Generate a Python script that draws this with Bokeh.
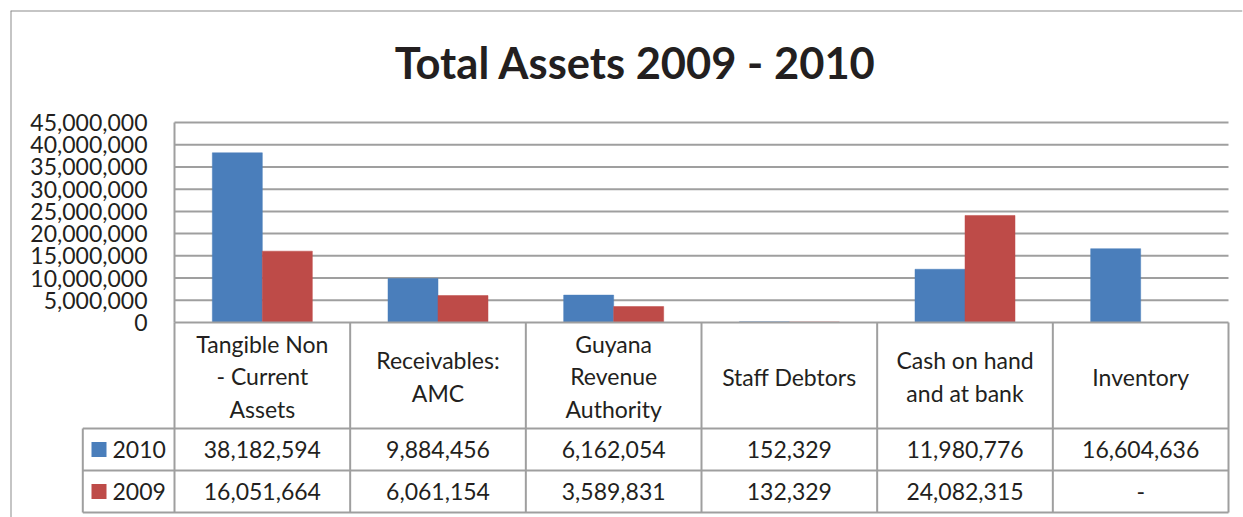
from bokeh.plotting import figure
from bokeh.models import Range1d, LinearAxis, FixedTicker, NumeralTickFormatter, ColumnDataSource, Span
from bokeh.transform import dodge
from bokeh.core.properties import value
from bokeh.embed import file_html
from bokeh.resources import INLINE

# ---------------- data ----------------
title_text = "Total Assets 2009 - 2010"
categories = ["Tangible Non\n- Current\nAssets", "Receivables:\nAMC", "Guyana\nRevenue\nAuthority",
              "Staff Debtors", "Cash on hand\nand at bank", "Inventory"]
series_names = ["2010", "2009"]
values_2010 = [38182594, 9884456, 6162054, 152329, 11980776, 16604636]
values_2009 = [16051664, 6061154, 3589831, 132329, 24082315, None]
series_colors = ["#4A7EBB", "#BE4B48"]
y_ticks = [0, 5000000, 10000000, 15000000, 20000000, 25000000, 30000000, 35000000, 40000000, 45000000]

# ---------------- layout constants ----------------
FONT = "Lato"
TXT = "#231F20"
LINE = "#9F9F9F"
n = len(categories)
ppu = (1228 - 174) / n          # pixels per category
x_start = (10 - 174) / ppu
x_end = x_start + 1232 / ppu
legend_left = (82.3 - 174) / ppu

p = figure(width=1243, height=517, output_backend="svg", toolbar_location=None,
           x_axis_type=None, y_axis_type=None,
           x_range=Range1d(x_start, x_end), y_range=Range1d(-43875000, 70200000),
           min_border_left=10, min_border_right=1, min_border_top=10, min_border_bottom=0,
           background_fill_color="white", border_fill_color="white", outline_line_color=None)
p.extra_y_ranges = {"tbl": Range1d(-5, 502)}

# outer chart border (left & top)
p.add_layout(Span(location=x_start, dimension="height", line_color="#8C8C8C", line_width=2))
p.add_layout(Span(location=70200000, dimension="width", line_color="#8C8C8C", line_width=2))

xs = [i + 0.5 for i in range(n)]
nan = float("nan")
src = ColumnDataSource(dict(
    x=xs,
    v2010=[v if v is not None else nan for v in values_2010],
    v2009=[v if v is not None else nan for v in values_2009],
    cat=categories,
    l2010=["{:,}".format(v) if v is not None else "-" for v in values_2010],
    l2009=["{:,}".format(v) if v is not None else "-" for v in values_2009],
))

# gridlines
grid_y = y_ticks[1:]
p.segment(x0=[0] * len(grid_y), x1=[n] * len(grid_y), y0=grid_y, y1=grid_y,
          line_color=LINE, line_width=2)

# bars
bw = 50 / ppu
p.vbar(x=dodge("x", -bw / 2, range=p.x_range), top="v2010", width=bw, bottom=0, source=src,
       fill_color=series_colors[0], line_color=series_colors[0], line_width=0.5)
p.vbar(x=dodge("x", bw / 2, range=p.x_range), top="v2009", width=bw, bottom=0, source=src,
       fill_color=series_colors[1], line_color=series_colors[1], line_width=0.5)

# y axis
ax = LinearAxis(fixed_location=0, ticker=FixedTicker(ticks=y_ticks),
                formatter=NumeralTickFormatter(format="0,0"), bounds=(0, 45000000),
                axis_line_color=LINE, axis_line_width=2,
                major_tick_line_color=None, minor_tick_line_color=None,
                major_tick_out=0, major_tick_in=0, minor_tick_out=0, minor_tick_in=0,
                major_label_standoff=27, major_label_text_font=FONT,
                major_label_text_font_size="23px", major_label_text_color=TXT)
p.add_layout(ax, "left")

# data table lines (table range: pixel rows from table bottom)
HDR_TOP, ROW1_TOP, ROW2_TOP, BOT = 190, 84, 42, 0
hx0 = [0, legend_left, legend_left, legend_left]
hx1 = [n, n, n, n]
hy = [HDR_TOP, ROW1_TOP, ROW2_TOP, BOT]
p.segment(x0=hx0, x1=hx1, y0=hy, y1=hy, line_color=LINE, line_width=2, y_range_name="tbl")
vx = [legend_left] + list(range(n + 1))
vy1 = [ROW1_TOP] + [HDR_TOP] * (n + 1)
p.segment(x0=vx, x1=vx, y0=[BOT] * len(vx), y1=vy1, line_color=LINE, line_width=2, y_range_name="tbl")

# header texts
p.text(x="x", y=136, text="cat", source=src, y_range_name="tbl",
       text_font=value(FONT), text_font_size="23px", text_color=TXT,
       text_align="center", text_baseline="middle", text_line_height=1.16)
p.text(x="x", y=63, text="l2010", source=src, y_range_name="tbl",
       text_font=value(FONT), text_font_size="23px", text_color=TXT,
       text_align="center", text_baseline="middle")
p.text(x="x", y=21, text="l2009", source=src, y_range_name="tbl",
       text_font=value(FONT), text_font_size="23px", text_color=TXT,
       text_align="center", text_baseline="middle")

# legend keys in table
lg = ColumnDataSource(dict(name=series_names, color=series_colors, y=[63, 21]))
p.scatter(x=(98.5 - 174) / ppu, y="y", marker="square", size=15, fill_color="color",
          line_color=None, source=lg, y_range_name="tbl")
p.text(x=(112 - 174) / ppu, y="y", text="name", source=lg, y_range_name="tbl",
       text_font=value(FONT), text_font_size="23px", text_color=TXT,
       text_align="left", text_baseline="middle")

# title
p.text(x=[(635 - 174) / ppu], y=[451], text=[title_text], y_range_name="tbl",
       text_font=value(FONT), text_font_style="bold", text_font_size="43.5px", text_color=TXT,
       text_align="center", text_baseline="middle")

open("out.html", "w").write(file_html(p, INLINE))
